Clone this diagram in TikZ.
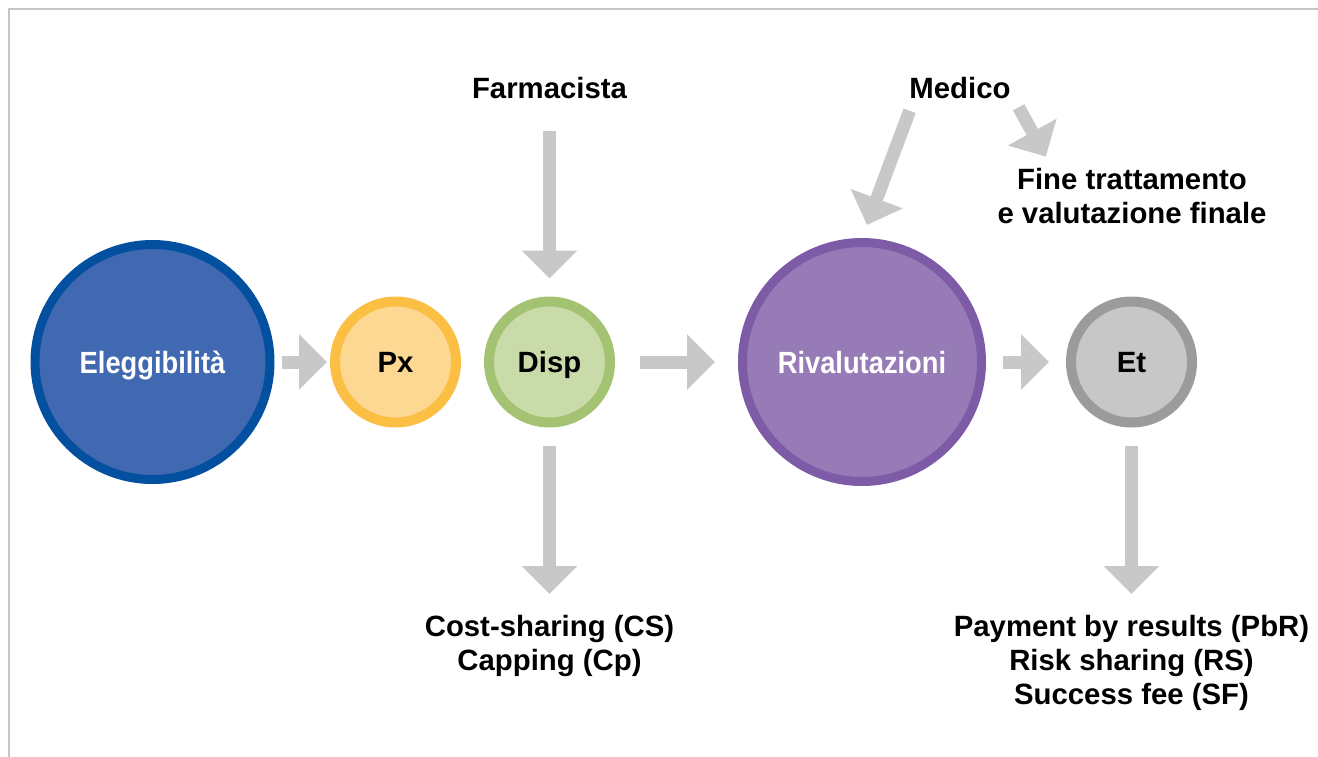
\documentclass[tikz,border=0pt]{standalone}
\usepackage{fontspec}
\setmainfont{Liberation Sans}
\newfontfamily\narrowfont[FakeStretch=0.89]{Liberation Sans}
\usetikzlibrary{arrows.meta}

\newlength\pxu
\setlength\pxu{0.75pt}

\definecolor{elegfill}{HTML}{4169B1}
\definecolor{elegring}{HTML}{0350A0}
\definecolor{pxfill}{HTML}{FDD893}
\definecolor{pxring}{HTML}{FBBF44}
\definecolor{dispfill}{HTML}{C8DBA9}
\definecolor{dispring}{HTML}{A3C272}
\definecolor{rivfill}{HTML}{977BB6}
\definecolor{rivring}{HTML}{7D5BA6}
\definecolor{etfill}{HTML}{C7C7C7}
\definecolor{etring}{HTML}{9B9B9B}
\definecolor{arrowgray}{HTML}{C8C8C8}
\definecolor{framegray}{HTML}{C6C6C6}

\tikzset{
  stage/.style={circle, inner sep=0pt, minimum size=121\pxu, line width=10\pxu,
    font=\fontsize{22}{25.5}\selectfont\bfseries, text height=21\pxu, text depth=0pt},
  bigstage/.style={stage, minimum size=235\pxu, line width=9\pxu, text=white,
    font=\narrowfont\fontsize{23}{26}\selectfont\bfseries, text height=22\pxu},
  lbl/.style={inner sep=0pt, align=center, font=\fontsize{22}{25.5}\selectfont\bfseries},
  flowarrow/.style={color=arrowgray, line width=13\pxu,
    -{Triangle[width=40.5pt, length=21pt]}},
}

\begin{document}
\begin{tikzpicture}[x=0.75pt, y=-0.75pt]
 \useasboundingbox (0,0) rectangle (1318,757);
 \draw [framegray, line width=2\pxu] (8.5,757) -- (8.5,9) -- (1318,9);

 \node [bigstage, fill=elegfill, draw=elegring] (eleg) at (152.5,362) {Eleggibilità};
 \node [stage, fill=pxfill, draw=pxring] (px) at (395.5,362) {Px};
 \node [stage, fill=dispfill, draw=dispring] (disp) at (549.5,362) {Disp};
 \node [bigstage, minimum size=239\pxu, fill=rivfill, draw=rivring] (riv) at (862,362) {Rivalutazioni};
 \node [stage, fill=etfill, draw=etring] (et) at (1131.5,362) {Et};

 \node [lbl, anchor=base] (farm) at (549.5,98) {Farmacista};
 \node [lbl, anchor=base] (medico) at (960,98) {Medico};
 \node [lbl, anchor=north] (fine) at (1132,168) {Fine trattamento\\e valutazione finale};
 \node [lbl, anchor=north] (cost) at (549.5,615) {Cost-sharing (CS)\\Capping (Cp)};
 \node [lbl, anchor=north] (pay) at (1131.5,615) {Payment by results (PbR)\\Risk sharing (RS)\\Success fee (SF)};

 \draw [flowarrow, shorten <=7\pxu, shorten >=3\pxu] (eleg) -- (px);
 \draw [flowarrow, shorten <=25\pxu, shorten >=23\pxu] (disp) -- (riv);
 \draw [flowarrow, shorten <=17\pxu, shorten >=17\pxu] (riv) -- (et);

 \draw [flowarrow, shorten <=32\pxu, shorten >=18\pxu] (farm) -- (disp);
 \draw [flowarrow, shorten <=18\pxu, shorten >=21\pxu] (disp) -- (cost);
 \draw [flowarrow, shorten <=18\pxu, shorten >=21\pxu] (et) -- (pay);

 \draw [flowarrow, shorten <=13\pxu, shorten >=14\pxu] ([xshift=5\pxu]medico.south west) -- (riv.north);
 \draw [flowarrow, shorten <=10\pxu, shorten >=13\pxu] ([xshift=3\pxu]medico.south east) -- ([xshift=-80\pxu]fine.north);

\end{tikzpicture}
\end{document}
